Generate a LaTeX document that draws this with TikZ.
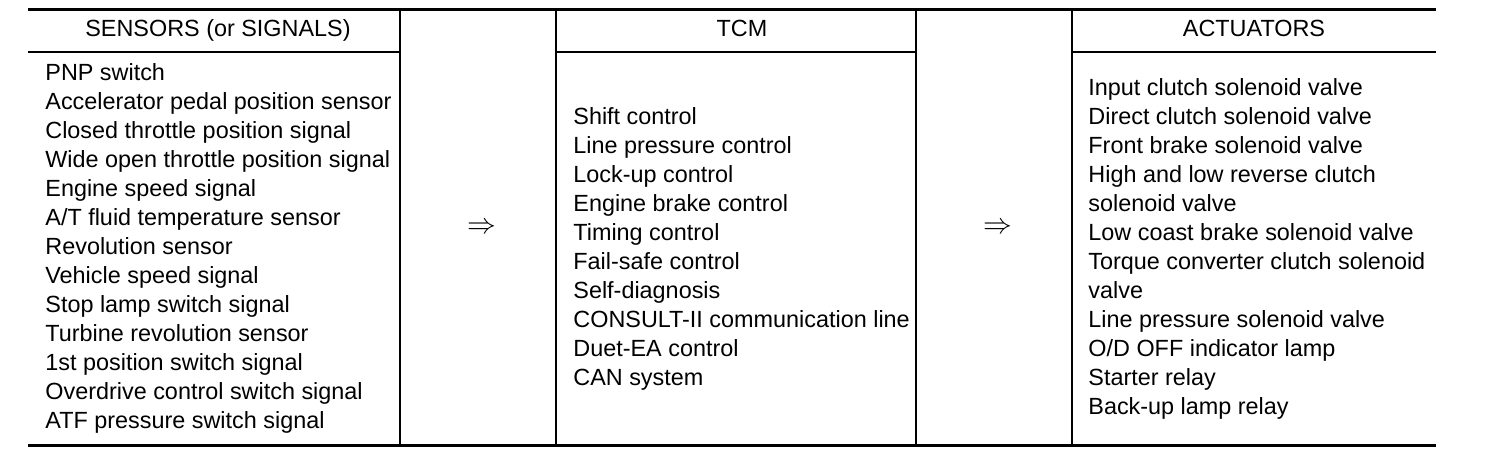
\documentclass[tikz,border=0pt]{standalone}
\usepackage{fontspec}
\setmainfont{Liberation Sans}
\begin{document}
\begin{tikzpicture}[x=0.5pt,y=-0.5pt,
  thick rule/.style={line width=1.9pt},
  thin rule/.style={line width=0.75pt},
  cell/.style={anchor=base west,inner sep=0pt,font=\fontsize{11.7}{14}\selectfont},
  head/.style={anchor=base,inner sep=0pt,font=\fontsize{11.7}{14}\selectfont},
  arr/.style={inner sep=0pt,font=\fontsize{14}{16}\selectfont}]
\useasboundingbox (0,0) rectangle (1504,454);
% rules
\draw[thick rule] (28,9.5) -- (1436,9.5);
\draw[thick rule] (28,445.5) -- (1436,445.5);
\foreach \x in {400,556,916,1072} \draw[thin rule] (\x,10) -- (\x,445);
\draw[thin rule] (28,52) -- (400,52);
\draw[thin rule] (556,52) -- (916,52);
\draw[thin rule] (1072,52) -- (1436,52);
% headers
\node[head] (h1) at (218,37) {SENSORS (or SIGNALS)};
\node[head] (h2) at (742,37) {TCM};
\node[head] (h3) at (1254,37) {ACTUATORS};
% arrows
\node[arr] (a1) at (482,228) {$\Rightarrow$};
\node[arr] (a2) at (998,228) {$\Rightarrow$};
% sensors
\foreach \t [count=\i from 0] in {PNP switch,Accelerator pedal position sensor,Closed throttle position signal,Wide open throttle position signal,Engine speed signal,A/T fluid temperature sensor,Revolution sensor,Vehicle speed signal,Stop lamp switch signal,Turbine revolution sensor,1st position switch signal,Overdrive control switch signal,ATF pressure switch signal}
  \node[cell] (s\i) at (45,{80.5+29*\i}) {\t};
% TCM
\foreach \t [count=\i from 0] in {Shift control,Line pressure control,Lock-up control,Engine brake control,Timing control,Fail-safe control,Self-diagnosis,CONSULT-II communication line,Duet-EA control,CAN system}
  \node[cell] (t\i) at (573,{124.5+29*\i}) {\t};
% actuators
\foreach \t [count=\i from 0] in {Input clutch solenoid valve,Direct clutch solenoid valve,Front brake solenoid valve,High and low reverse clutch,solenoid valve,Low coast brake solenoid valve,Torque converter clutch solenoid,valve,Line pressure solenoid valve,O/D OFF indicator lamp,Starter relay,Back-up lamp relay}
  \node[cell] (c\i) at (1088,{95.5+29*\i}) {\t};
\end{tikzpicture}
\end{document}
